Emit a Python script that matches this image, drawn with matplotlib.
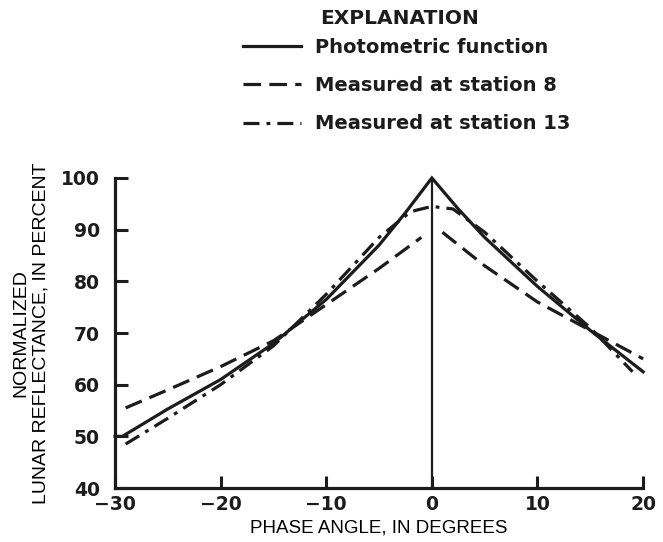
import matplotlib.pyplot as plt

# =========================
# DATA
# =========================
phot_x = [-30, -29.3, -25, -20, -15, -10, -5, -2.5, 0, 2.5, 5, 10, 15, 20]
phot_y = [50, 50, 55.3, 61, 68, 76.5, 87, 93.3, 100, 94, 88.5, 79, 70.5, 62.5]

st8_left_x = [-29, -25, -20, -15, -10, -5, -1]
st8_left_y = [55.5, 59, 63.5, 68.5, 75.5, 82.5, 88.5]
st8_right_x = [1, 5, 10, 15, 20]
st8_right_y = [89.5, 83, 76, 70.5, 65]

st13_x = [-29, -25, -20, -15, -10, -5, -2, 0, 2, 5, 10, 15, 19]
st13_y = [48.5, 53.5, 60, 67.5, 77.5, 88.5, 93.5, 94.5, 94, 89.5, 80, 71, 62.5]

x_ticks = [-30, -20, -10, 0, 10, 20]
y_ticks = [40, 50, 60, 70, 80, 90, 100]

labels = ["Photometric function", "Measured at station 8", "Measured at station 13"]

# =========================
# STYLE
# =========================
INK = "#1c1c1c"
LW = 2.3
DASHED = (0, (5.5, 2.6))
DASHDOT = (0, (5, 2.2, 1.2, 2.2))

fig = plt.figure(figsize=(6.63, 5.42), dpi=100)
ax = fig.add_axes([0.1735, 0.0996, 0.7965, 0.572])

ax.plot(phot_x, phot_y, color=INK, lw=LW, clip_on=False,
        solid_joinstyle="miter", label=labels[0])
ax.plot(st8_left_x, st8_left_y, color=INK, lw=LW, linestyle=DASHED,
        clip_on=False, label=labels[1])
ax.plot(st8_right_x, st8_right_y, color=INK, lw=LW, linestyle=DASHED,
        clip_on=False)
ax.plot(st13_x, st13_y, color=INK, lw=LW, linestyle=DASHDOT,
        clip_on=False, label=labels[2])

# vertical line at zero phase
ax.axvline(0, color=INK, lw=1.6)

# =========================
# AXES
# =========================
ax.set_xlim(-30, 20)
ax.set_ylim(40, 100)
ax.set_xticks(x_ticks)
ax.set_yticks(y_ticks)
ax.set_xticklabels(["\u221230", "\u221220", "\u221210", "0", "10", "20"])

for side in ["top", "right"]:
    ax.spines[side].set_visible(False)
for side in ["left", "bottom"]:
    ax.spines[side].set_linewidth(2.3)
    ax.spines[side].set_color(INK)

ax.tick_params(axis="both", direction="in", length=9, width=2.2, color=INK,
               labelsize=13.5, labelcolor=INK)
ax.tick_params(axis="y", pad=11)
ax.tick_params(axis="x", pad=5)
for lab in ax.get_xticklabels() + ax.get_yticklabels():
    lab.set_fontweight("bold")

ax.set_xlabel("PHASE ANGLE, IN DEGREES", family="Liberation Sans",
              fontsize=13.5, color="black", labelpad=4)
ax.set_ylabel("NORMALIZED\nLUNAR REFLECTANCE, IN PERCENT",
              family="Liberation Sans", fontsize=14, color="black",
              labelpad=8, linespacing=1.25)

# =========================
# EXPLANATION
# =========================
fig.text(0.483, 0.966, "EXPLANATION", fontsize=14.5, fontweight="bold",
         color=INK, va="center", ha="left")
leg = fig.legend(loc="upper left", bbox_to_anchor=(0.355, 0.945),
                 frameon=False, fontsize=14, handlelength=3.0,
                 handletextpad=0.7, labelspacing=1.0, borderaxespad=0)
for txt in leg.get_texts():
    txt.set_color(INK)
    txt.set_fontweight("bold")

plt.savefig("out.png", dpi=100)
plt.close()
